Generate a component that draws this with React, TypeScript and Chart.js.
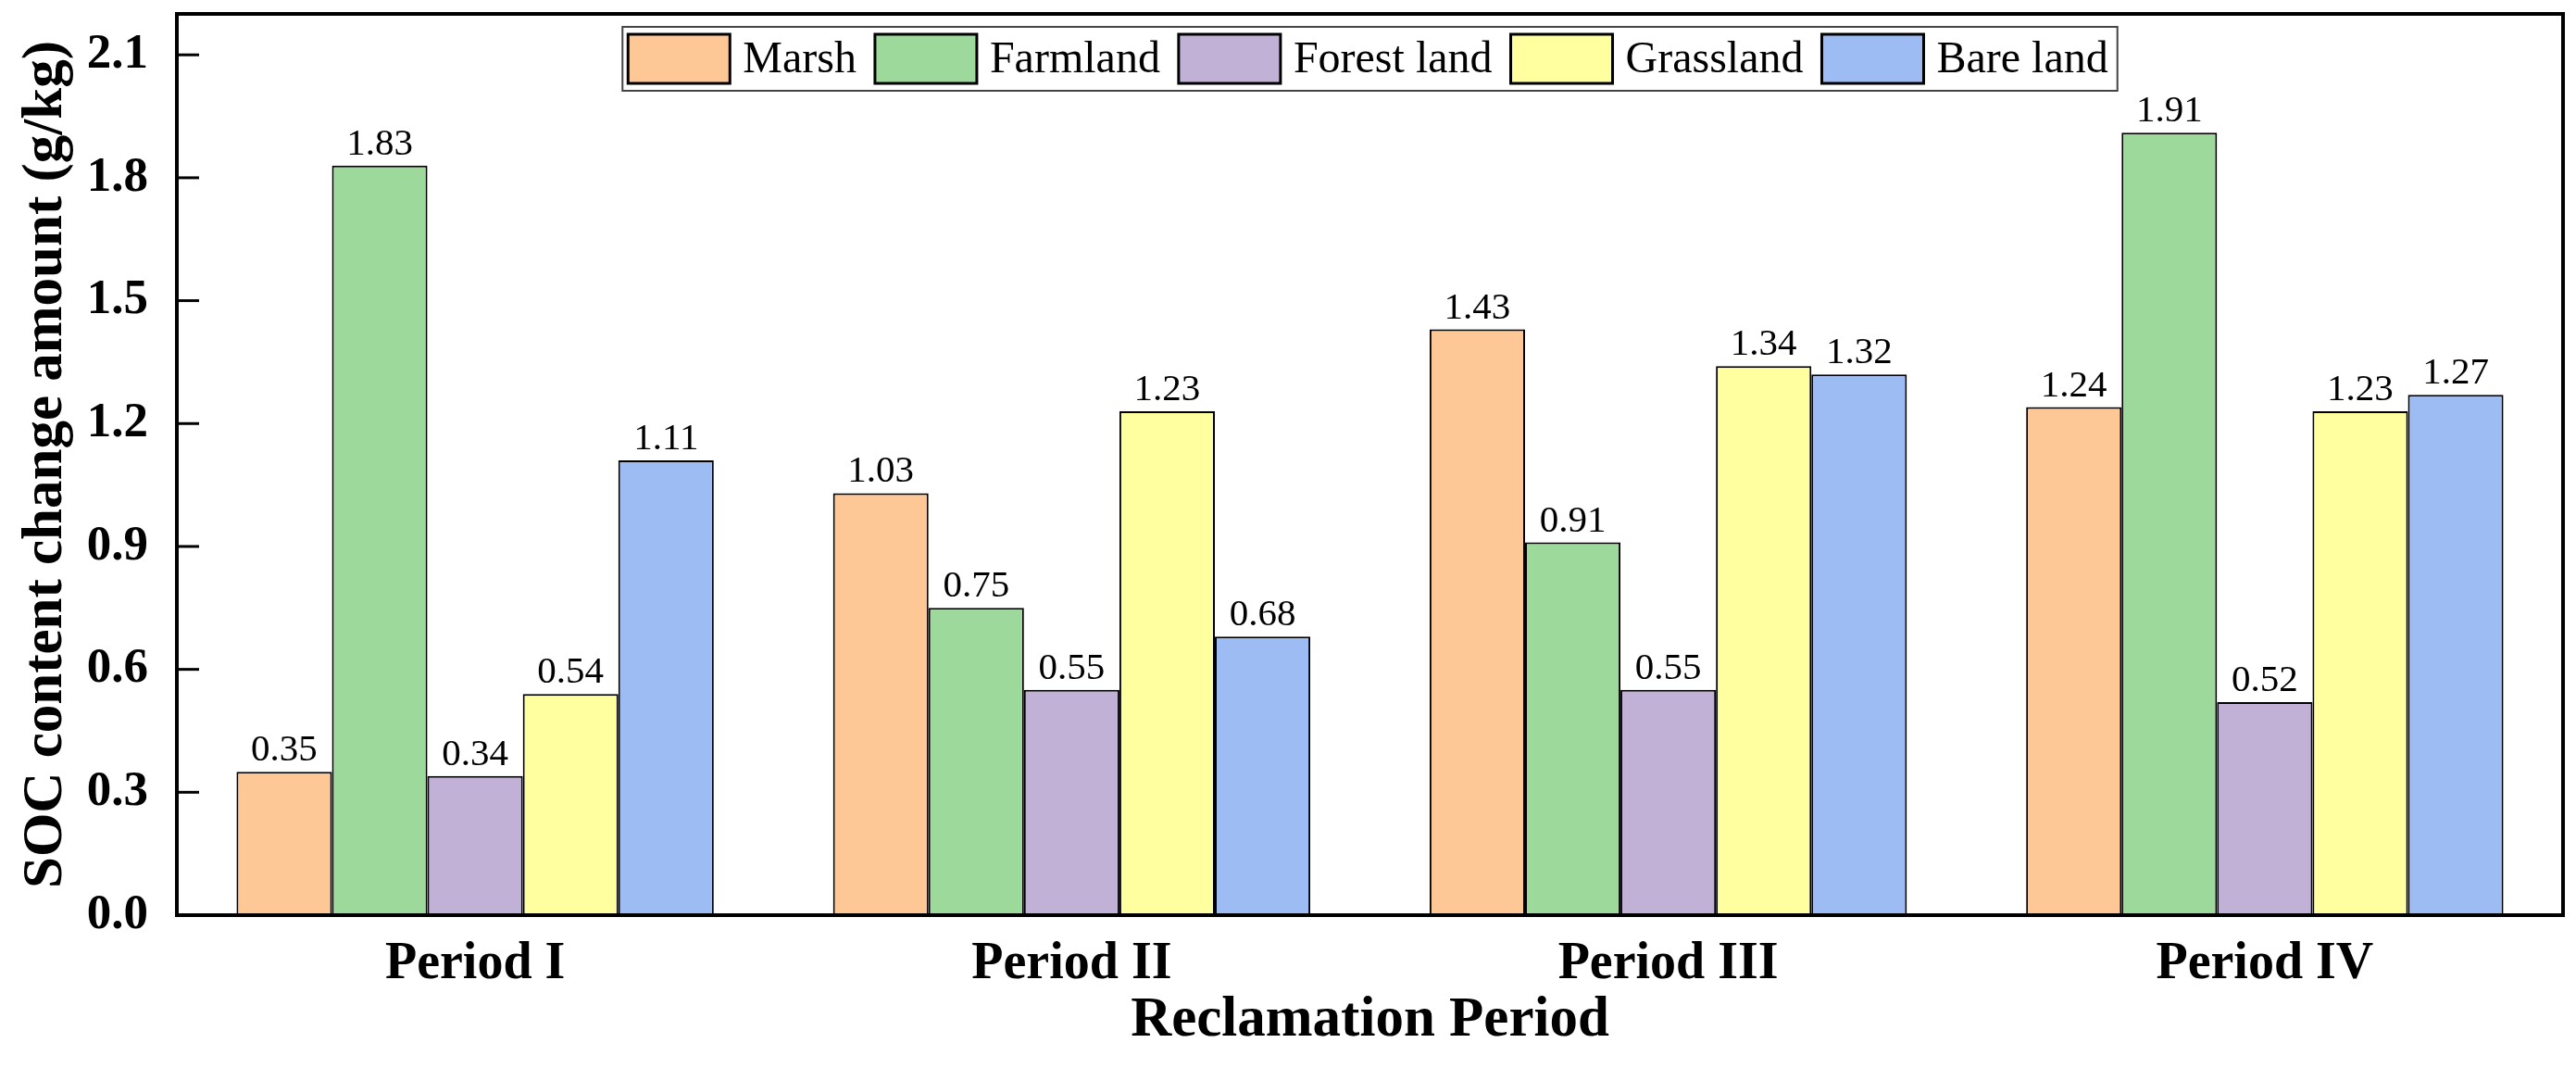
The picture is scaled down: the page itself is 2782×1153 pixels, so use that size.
import { useEffect, useRef } from 'react'
import { Chart, registerables } from 'chart.js'

Chart.register(...registerables)

const periods = ['Period I', 'Period II', 'Period III', 'Period IV']
const landTypes = ['Marsh', 'Farmland', 'Forest land', 'Grassland', 'Bare land']
const marsh = [0.35, 1.03, 1.43, 1.24]
const farmland = [1.83, 0.75, 0.91, 1.91]
const forestLand = [0.34, 0.55, 0.55, 0.52]
const grassland = [0.54, 1.23, 1.34, 1.23]
const bareLand = [1.11, 0.68, 1.32, 1.27]
const yTickValues = [0, 0.3, 0.6, 0.9, 1.2, 1.5, 1.8, 2.1]

const barColors = ['#FEC896', '#9DD99B', '#C1B1D7', '#FFFF9F', '#9CBCF3']
const serif = '"Liberation Serif", "Times New Roman", serif'

// plot frame + inward y ticks
const framePlugin = {
  id: 'frame',
  afterDatasetsDraw(chart: any) {
    const { ctx, chartArea: a, scales } = chart
    ctx.save()
    ctx.strokeStyle = '#000'
    ctx.lineWidth = 3
    const y = scales.y
    y.ticks.forEach((t: any) => {
      const py = y.getPixelForValue(t.value)
      ctx.beginPath()
      ctx.moveTo(a.left, py)
      ctx.lineTo(a.left + 24, py)
      ctx.stroke()
    })
    ctx.lineWidth = 4
    ctx.strokeRect(a.left, a.top, a.right - a.left, a.bottom - a.top)
    ctx.restore()
  },
}

// numbers above the bars
const valueLabelPlugin = {
  id: 'valueLabels',
  afterDatasetsDraw(chart: any) {
    const { ctx } = chart
    ctx.save()
    ctx.font = `41px ${serif}`
    ctx.fillStyle = '#000'
    ctx.textAlign = 'center'
    ctx.textBaseline = 'alphabetic'
    chart.data.datasets.forEach((ds: any, i: number) => {
      const meta = chart.getDatasetMeta(i)
      meta.data.forEach((bar: any, j: number) => {
        ctx.fillText(Number(ds.data[j]).toFixed(2), bar.x, bar.y - 12)
      })
    })
    ctx.restore()
  },
}

// boxed legend inside the plot area, top centre
const boxLegendPlugin = {
  id: 'boxLegend',
  afterDraw(chart: any) {
    const { ctx, chartArea: a } = chart
    const swatchW = 110
    const swatchH = 53
    const textGap = 14
    const itemGap = 20
    const padL = 6
    const padR = 10
    const boxH = 69
    ctx.save()
    ctx.font = `48px ${serif}`
    const datasets = chart.data.datasets
    const widths = datasets.map((d: any) => ctx.measureText(d.label).width)
    const inner =
      widths.reduce((s: number, w: number) => s + w, 0) +
      datasets.length * (swatchW + textGap) +
      (datasets.length - 1) * itemGap
    const boxW = inner + padL + padR
    const left = (a.left + a.right) / 2 - boxW / 2
    const top = a.top + 14
    ctx.strokeStyle = '#444'
    ctx.lineWidth = 2
    ctx.strokeRect(left, top, boxW, boxH)
    let x = left + padL
    const midY = top + boxH / 2
    datasets.forEach((d: any, i: number) => {
      ctx.fillStyle = d.backgroundColor
      ctx.fillRect(x, midY - swatchH / 2, swatchW, swatchH)
      ctx.strokeStyle = '#000'
      ctx.lineWidth = 3
      ctx.strokeRect(x, midY - swatchH / 2, swatchW, swatchH)
      x += swatchW + textGap
      ctx.fillStyle = '#000'
      ctx.textAlign = 'left'
      ctx.textBaseline = 'middle'
      ctx.fillText(d.label, x, midY + 2)
      x += widths[i] + itemGap
    })
    ctx.restore()
  },
}

export default function App() {
  const canvasRef = useRef<HTMLCanvasElement>(null)
  const chartRef = useRef<Chart | null>(null)

  useEffect(() => {
    if (!canvasRef.current) return
    if (chartRef.current) chartRef.current.destroy()

    Chart.defaults.color = '#000'
    const series = [marsh, farmland, forestLand, grassland, bareLand]

    chartRef.current = new Chart(canvasRef.current, {
      type: 'bar',
      data: {
        labels: periods,
        datasets: series.map((values, i) => ({
          label: landTypes[i],
          data: values,
          backgroundColor: barColors[i],
          borderColor: '#000',
          borderWidth: 2,
          categoryPercentage: 0.8,
          barPercentage: 1.0,
        })),
      },
      options: {
        responsive: true,
        maintainAspectRatio: false,
        animation: false,
        layout: { padding: { top: 15, right: 14, left: 0, bottom: 0 } },
        plugins: {
          legend: { display: false },
          tooltip: { enabled: false },
        },
        scales: {
          x: {
            grid: { display: false, drawTicks: false },
            border: { display: false },
            ticks: {
              padding: 26,
              font: { family: serif, size: 56, weight: 'bold', lineHeight: 1 },
              color: '#000',
            },
            title: {
              display: true,
              text: 'Reclamation Period',
              font: { family: serif, size: 61, weight: 'bold', lineHeight: 1 },
              padding: { top: 0, bottom: 20 },
              color: '#000',
            },
            afterFit: (scale: any) => {
              scale.height = 165
              scale.paddingLeft = 0
              scale.paddingRight = 0
            },
          },
          y: {
            min: 0,
            max: 2.2,
            grid: { display: false, drawTicks: false },
            border: { display: false },
            afterBuildTicks: (scale: any) => {
              scale.ticks = yTickValues.map((v) => ({ value: v }))
            },
            ticks: {
              padding: 31,
              font: { family: serif, size: 53, weight: 'bold' },
              color: '#000',
              callback: (v: any) => Number(v).toFixed(1),
            },
            title: {
              display: true,
              text: 'SOC content change amount (g/kg)',
              font: { family: serif, size: 61, weight: 'bold', lineHeight: 1 },
              padding: { top: 20, bottom: 0 },
              color: '#000',
            },
            afterFit: (scale: any) => {
              scale.width = 191
              scale.paddingTop = 0
              scale.paddingBottom = 0
            },
          },
        },
      },
      plugins: [framePlugin, valueLabelPlugin, boxLegendPlugin],
    })

    return () => {
      if (chartRef.current) {
        chartRef.current.destroy()
        chartRef.current = null
      }
    }
  }, [])

  return (
    <div style={{ position: 'absolute', left: 0, top: 0, width: 2782, height: 1153, background: '#fff' }}>
      <canvas ref={canvasRef}></canvas>
    </div>
  )
}
